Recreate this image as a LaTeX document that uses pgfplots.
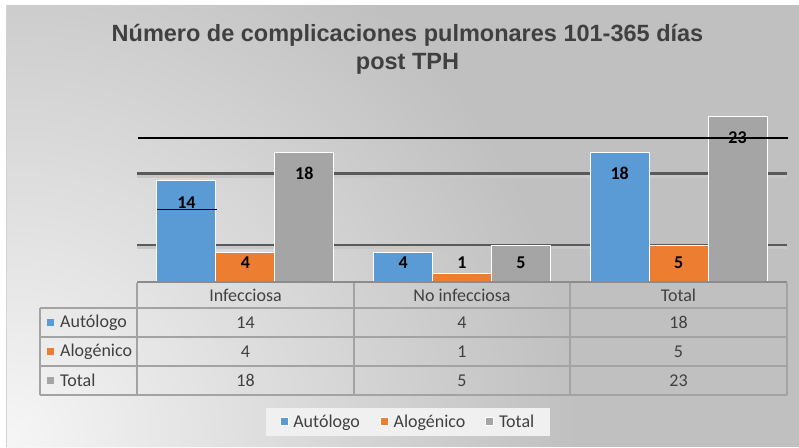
\documentclass[border=0pt]{standalone}
\usepackage{fontspec}
\setmainfont{Carlito}
\newfontfamily\titlefont{Liberation Sans}
\usepackage{pgfplots}
\pgfplotsset{compat=1.18}
\usepackage{pgfplotstable}
\usetikzlibrary{fadings}
\definecolor{cblue}{HTML}{5B9BD5}
\definecolor{corange}{HTML}{ED7D31}
\definecolor{cgray}{HTML}{A5A5A5}
\definecolor{textc}{HTML}{404040}
\definecolor{bgdark}{HTML}{C0C0C0}
\definecolor{bglight}{HTML}{F6F6F6}
\definecolor{gridc}{HTML}{5A5A5A}
\definecolor{tablec}{HTML}{A3A3A3}
\definecolor{legbg}{HTML}{F0F0F0}
\tikzfading[name=radfade, inner color=transparent!0, outer color=transparent!100]

\pgfplotstableread{
x      v
0      14
1      4
2      18
}\autologo
\pgfplotstableread{
x      v
0      4
1      1
2      5
}\alogenico
\pgfplotstableread{
x      v
0      18
1      5
2      23
}\total
% label positions (centre of each data label)
\pgfplotstableread{
x       ly     v
-0.272  11.0   14
0.000   2.5    4
0.272   15.1   18
0.728   2.5    4
1.000   2.5    1
1.272   2.5    5
1.728   15.0   18
2.000   2.5    5
2.272   20.0   23
}\labels

\begin{document}
\begin{tikzpicture}
\path[use as bounding box] (0pt,0pt) rectangle (799pt,447pt);
\fill[white] (0pt,0pt) rectangle (799pt,447pt);
\begin{scope}
\clip (6pt,0pt) rectangle (799pt,442pt);
\fill[bgdark] (6pt,0pt) rectangle (799pt,442pt);
\fill[bglight, path fading=radfade] (-560pt,-560pt) rectangle (580pt,580pt);
\end{scope}
\draw[gray!35, line width=1pt] (6pt,0pt) -- (6pt,442pt);

% title
\node[anchor=base, font=\titlefont\bfseries\fontsize{23.5}{28}\selectfont, text=textc] at (407.5pt,405.3pt) {Número de complicaciones pulmonares 101-365 días};
\node[anchor=base, font=\titlefont\bfseries\fontsize{23.5}{28}\selectfont, text=textc] at (407.5pt,377pt) {post TPH};

\begin{axis}[
  at={(137pt,166pt)}, anchor=south west,
  width=650pt, height=179pt, scale only axis,
  xmin=-0.5, xmax=2.5, ymin=0, ymax=25,
  axis line style={draw=none},
  xtick=\empty, ytick={5,15}, yticklabels={}, major tick length=0pt,
  ymajorgrids,
  grid style={draw=gridc, line width=2.4pt,
    preaction={draw=black!22, line width=3pt, transform canvas={yshift=-2.4pt}}},
  clip=false,
  legend columns=3,
  legend style={at={(0.4169,-0.785)}, anchor=center, draw=none, fill=legbg,
    font=\fontsize{18}{20}\selectfont, text=textc,
    inner xsep=14pt, inner ysep=5pt,
    /tikz/every odd column/.append style={column sep=3pt},
    /tikz/every even column/.append style={column sep=18pt}},
  legend image code/.code={\draw[#1, draw=white, line width=0.6pt] (0pt,-4pt) rectangle (8pt,4pt);},
]
\addplot[ybar, bar width=0.272, bar shift=-0.272, fill=cblue, draw=white, line width=1pt] table[x=x,y=v] {\autologo};
\addlegendentry{Autólogo}
\addplot[ybar, bar width=0.272, bar shift=0, fill=corange, draw=white, line width=1pt] table[x=x,y=v] {\alogenico};
\addlegendentry{Alogénico}
\addplot[ybar, bar width=0.272, bar shift=0.272, fill=cgray, draw=white, line width=1pt] table[x=x,y=v] {\total};
\addlegendentry{Total}
\addplot[draw=none, mark=none, forget plot,
  nodes near coords, point meta=explicit symbolic,
  nodes near coords style={anchor=center, draw=none, font=\bfseries\fontsize{18}{18}\selectfont, text=black}]
  table[x=x, y=ly, meta=v] {\labels};
\draw[black, line width=1.5pt] (axis cs:-0.495,20) -- (axis cs:2.505,20);
\draw[black, line width=1.3pt] (axis cs:-0.4077,10) -- (axis cs:-0.1308,10);
\end{axis}

% data table
\begin{scope}[line width=1.2pt, draw=tablec]
\draw[tablec] (40pt,139pt) -- (787pt,139pt);
\draw[tablec] (40pt,110pt) -- (787pt,110pt);
\draw[tablec] (40pt,81pt) -- (787pt,81pt);
\draw[tablec] (40pt,52pt) -- (787pt,52pt);
\draw[tablec] (40pt,139pt) -- (40pt,52pt);
\draw[tablec] (137pt,164pt) -- (137pt,52pt);
\draw[tablec] (354pt,164pt) -- (354pt,52pt);
\draw[tablec] (570pt,164pt) -- (570pt,52pt);
\draw[tablec] (787pt,164pt) -- (787pt,52pt);
\end{scope}
\draw[gray!90, line width=2pt] (137pt,165pt) -- (787pt,165pt);

\begin{scope}[every node/.style={font=\fontsize{18}{20}\selectfont, text=textc, anchor=center}]
\node at (245.5pt,151.5pt) {Infecciosa};
\node at (462pt,151.5pt) {No infecciosa};
\node at (678.5pt,151.5pt) {Total};
\node at (245.5pt,124.5pt) {14};
\node at (462pt,124.5pt) {4};
\node at (678.5pt,124.5pt) {18};
\node at (245.5pt,95.5pt) {4};
\node at (462pt,95.5pt) {1};
\node at (678.5pt,95.5pt) {5};
\node at (245.5pt,66.5pt) {18};
\node at (462pt,66.5pt) {5};
\node at (678.5pt,66.5pt) {23};
\end{scope}
\begin{scope}[every node/.style={font=\fontsize{18}{20}\selectfont, text=textc, anchor=west, inner sep=0pt}]
\fill[cblue] (47pt,121pt) rectangle (54pt,128pt);
\node at (60pt,124.5pt) {Autólogo};
\fill[corange] (47pt,92pt) rectangle (54pt,99pt);
\node at (60pt,95.5pt) {Alogénico};
\fill[cgray] (47pt,63pt) rectangle (54pt,70pt);
\node at (60pt,66.5pt) {Total};
\end{scope}
\end{tikzpicture}
\end{document}
